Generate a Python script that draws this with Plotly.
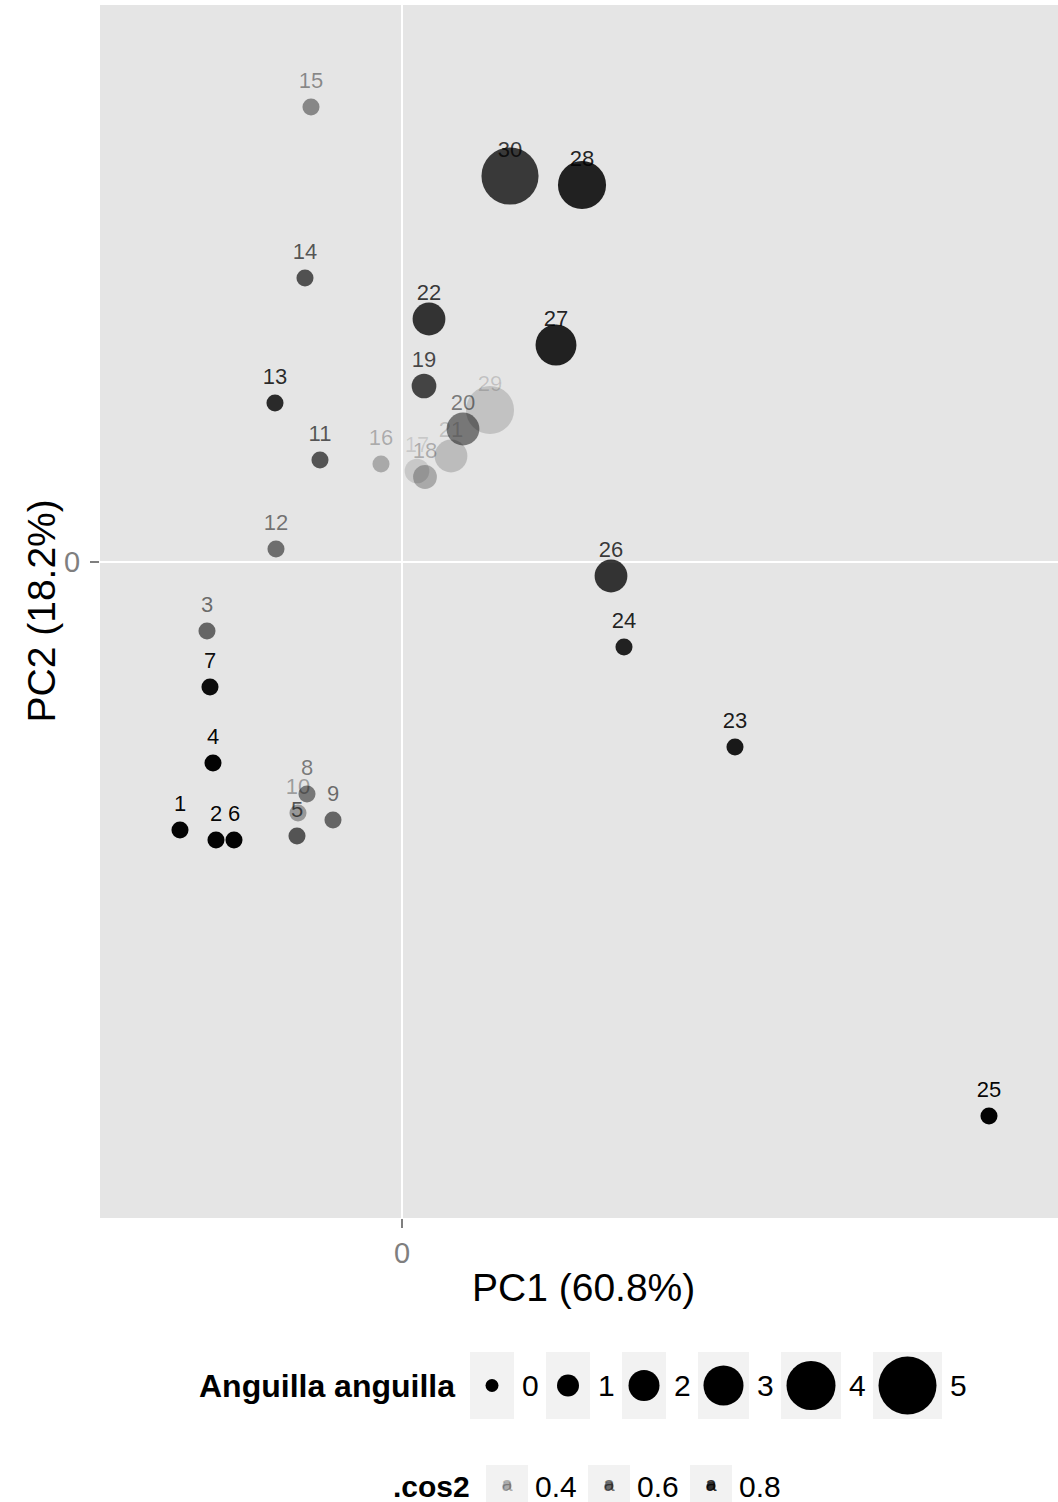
import plotly.graph_objects as go

# ---------------- data ----------------
site_ids = [str(i) for i in range(1, 31)]
pc1 = [-2.22, -1.86, -1.95, -1.89, -1.05, -1.68, -1.92, -0.95, -0.69, -1.04,
       -0.82, -1.26, -1.27, -0.97, -0.91, -0.21, 0.15, 0.23, 0.22, 0.61,
       0.49, 0.27, 3.33, 2.22, 5.87, 2.09, 1.54, 1.80, 0.88, 1.08]
pc2 = [-2.68, -2.78, -0.69, -2.01, -2.74, -2.78, -1.25, -2.32, -2.58, -2.51,
       1.02, 0.13, 1.59, 2.84, 4.55, 0.98, 0.91, 0.85, 1.76, 1.33,
       1.06, 2.43, -1.85, -0.85, -5.54, -0.14, 2.17, 3.77, 1.52, 3.86]
anguilla = [0.45, 0.45, 0.45, 0.45, 0.45, 0.45, 0.45, 0.45, 0.45, 0.45,
            0.45, 0.45, 0.45, 0.45, 0.45, 0.45, 1.3, 1.2, 1.3, 2.2,
            2.2, 2.2, 0.45, 0.45, 0.45, 2.2, 3.1, 3.9, 3.9, 4.9]
cos2 = [0.93, 0.93, 0.60, 0.93, 0.66, 0.93, 0.90, 0.54, 0.60, 0.43,
        0.66, 0.57, 0.80, 0.67, 0.49, 0.37, 0.27, 0.37, 0.71, 0.54,
        0.31, 0.77, 0.86, 0.83, 0.93, 0.77, 0.83, 0.83, 0.29, 0.75]

size_breaks = [0, 1, 2, 3, 4, 5]
cos2_breaks = [0.4, 0.6, 0.8]

x_title = "PC1 (60.8%)"
y_title = "PC2 (18.2%)"
size_title = "Anguilla anguilla"
alpha_title = ".cos2"

# ---------------- scales ----------------
COS2_LIMITS = (0.25, 0.94)
ALPHA_RANGE = (0.1, 1.0)
SIZE_D0, SIZE_SLOPE = 13.0, 9.0


def alpha_of(c):
    t = (c - COS2_LIMITS[0]) / (COS2_LIMITS[1] - COS2_LIMITS[0])
    t = min(max(t, 0.0), 1.0)
    return ALPHA_RANGE[0] + t * (ALPHA_RANGE[1] - ALPHA_RANGE[0])


def size_of(v):
    return SIZE_D0 + SIZE_SLOPE * v


def rgba(a):
    return f"rgba(0,0,0,{a:.3f})"


FONT = "Liberation Sans, Arial, Helvetica, sans-serif"
W, H = 1058, 1502
PL, PR, PT, PB = 100, 1058, 5, 1218   # panel box in px
LABEL_DY = 0.245

point_cols = [rgba(alpha_of(c)) for c in cos2]
point_sizes = [size_of(v) for v in anguilla]

fig = go.Figure()

fig.add_trace(go.Scatter(
    x=pc1, y=pc2, mode="markers",
    marker=dict(size=point_sizes, color=point_cols, opacity=1, line=dict(width=0)),
    hoverinfo="skip", showlegend=False, xaxis="x", yaxis="y"))

fig.add_trace(go.Scatter(
    x=pc1, y=[v + LABEL_DY for v in pc2], mode="text", text=site_ids,
    textposition="middle center",
    textfont=dict(family=FONT, size=22, color=point_cols),
    hoverinfo="skip", showlegend=False, xaxis="x", yaxis="y"))

shapes = []
annotations = []

# panel background
shapes.append(dict(type="rect", xref="x domain", yref="y domain", x0=0, x1=1, y0=0, y1=1,
                   fillcolor="#E5E5E5", line=dict(width=0), layer="below"))

# ---- size legend (pixel coordinates on helper axes) ----
cy1 = 1385.5
kh1 = 67
x = 470
lx, ly, ls = [], [], []
for v in size_breaks:
    d = size_of(v)
    w = max(44, d + 11)
    shapes.append(dict(type="rect", xref="x2", yref="y2", x0=x, x1=x + w,
                       y0=cy1 - kh1 / 2, y1=cy1 + kh1 / 2,
                       fillcolor="#F2F2F2", line=dict(width=0), layer="below"))
    lx.append(x + w / 2); ly.append(cy1); ls.append(d)
    annotations.append(dict(xref="x2", yref="y2", x=x + w + 6, y=cy1, text=str(v),
                            showarrow=False, xanchor="left", yanchor="middle",
                            font=dict(family=FONT, size=30, color="black")))
    x = x + w + 9 + 17 + 6

fig.add_trace(go.Scatter(x=lx, y=ly, mode="markers",
                         marker=dict(size=ls, color="black", opacity=1, line=dict(width=0)),
                         hoverinfo="skip", showlegend=False, xaxis="x2", yaxis="y2"))
annotations.append(dict(xref="x2", yref="y2", x=457, y=cy1, text="<b>" + size_title + "</b>",
                        showarrow=False, xanchor="right", yanchor="middle",
                        font=dict(family=FONT, size=32, color="black")))

# ---- alpha legend ----
cy2 = 1486
kh2 = 42
x = 486
ax_, ay_, ac_ = [], [], []
for c in cos2_breaks:
    w = 42
    shapes.append(dict(type="rect", xref="x2", yref="y2", x0=x, x1=x + w,
                       y0=cy2 - kh2 / 2, y1=cy2 + kh2 / 2,
                       fillcolor="#F2F2F2", line=dict(width=0), layer="below"))
    ax_.append(x + w / 2); ay_.append(cy2); ac_.append(rgba(alpha_of(c)))
    annotations.append(dict(xref="x2", yref="y2", x=x + w + 5, y=cy2, text=f"{c:.1f}",
                            showarrow=False, xanchor="left", yanchor="middle",
                            font=dict(family=FONT, size=30, color="black")))
    x = x + w + 7 + 43 + 10

fig.add_trace(go.Scatter(x=ax_, y=ay_, mode="markers+text", text=["a"] * len(ax_),
                         textposition="middle center",
                         textfont=dict(family=FONT, size=20, color=ac_),
                         marker=dict(size=9, color=ac_, opacity=1, line=dict(width=0)),
                         hoverinfo="skip", showlegend=False, xaxis="x2", yaxis="y2"))
annotations.append(dict(xref="x2", yref="y2", x=472, y=cy2, text="<b>" + alpha_title + "</b>",
                        showarrow=False, xanchor="right", yanchor="middle",
                        font=dict(family=FONT, size=30, color="black")))

# ---- axis titles ----
annotations.append(dict(xref="x2", yref="y2", x=(PL + PR) / 2 + 4, y=1287, text=x_title,
                        showarrow=False, xanchor="center", yanchor="middle",
                        font=dict(family=FONT, size=39, color="black")))
annotations.append(dict(xref="x2", yref="y2", x=41, y=(PT + PB) / 2, text=y_title,
                        showarrow=False, xanchor="center", yanchor="middle", textangle=-90,
                        font=dict(family=FONT, size=39, color="black")))

axis_common = dict(tickvals=[0], ticktext=["0"], showgrid=True, gridcolor="white", gridwidth=2,
                   zeroline=False, showline=False, ticks="outside", ticklen=9, tickwidth=2,
                   tickcolor="#7F7F7F", tickfont=dict(family=FONT, size=29, color="#7F7F7F"),
                   fixedrange=True)

fig.update_layout(
    width=W, height=H, margin=dict(l=0, r=0, t=0, b=0),
    paper_bgcolor="white", plot_bgcolor="rgba(0,0,0,0)",
    xaxis=dict(domain=[PL / W, PR / W], range=[(PL - 402) / 100, (PR - 402) / 100],
               anchor="y", **axis_common),
    yaxis=dict(domain=[1 - PB / H, 1 - PT / H], range=[(562 - PB) / 100, (562 - PT) / 100],
               anchor="x", ticklabelstandoff=4, **axis_common),
    xaxis2=dict(domain=[0, 1], range=[0, W], visible=False, anchor="y2", fixedrange=True),
    yaxis2=dict(domain=[0, 1], range=[H, 0], visible=False, anchor="x2", fixedrange=True),
    shapes=shapes, annotations=annotations, showlegend=False,
)

fig.write_html("out.html")
